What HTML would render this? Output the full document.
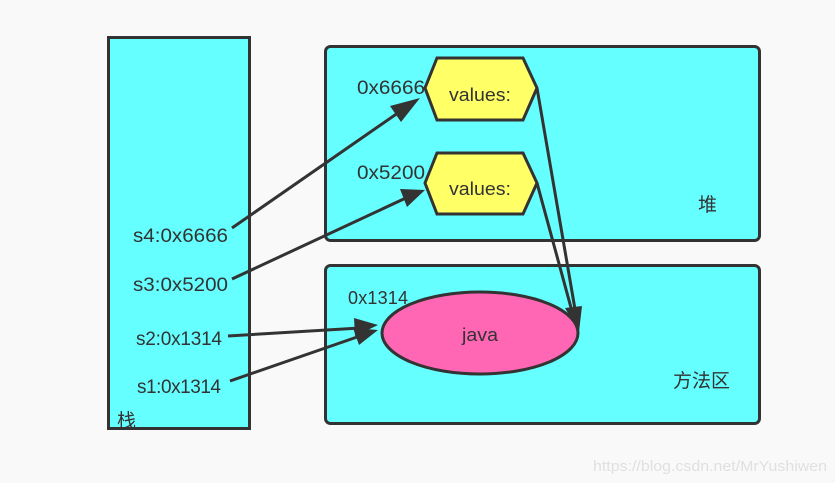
<!DOCTYPE html>
<html><head><meta charset="utf-8"><style>
html,body{margin:0;padding:0;background:#f9f9f9;}
svg{display:block;}
text{font-family:"Liberation Sans","Noto Sans CJK SC",sans-serif;fill:#333;}
</style></head><body>
<svg width="835" height="483" viewBox="0 0 835 483" xmlns="http://www.w3.org/2000/svg">
<rect x="0" y="0" width="835" height="483" fill="#f9f9f9"/>
<rect x="108.5" y="37.5" width="141" height="391" fill="#66ffff" stroke="#333" stroke-width="3"/>
<rect x="325.5" y="46.5" width="434" height="194" rx="5" fill="#66ffff" stroke="#333" stroke-width="3"/>
<rect x="325.5" y="265.5" width="434" height="158" rx="5" fill="#66ffff" stroke="#333" stroke-width="3"/>
<polygon points="425,88 437,58 523,58 537,88 523,120 437,120" fill="#ffff66" stroke="#333" stroke-width="3"/>
<polygon points="425,183 437,153 523,153 537,183 523,214 437,214" fill="#ffff66" stroke="#333" stroke-width="3"/>
<ellipse cx="480" cy="333" rx="98" ry="41" fill="#ff66b3" stroke="#333" stroke-width="3"/>
<g stroke="#333" stroke-width="3" fill="none">
<line x1="232" y1="228" x2="405" y2="108"/>
<line x1="232" y1="279" x2="408" y2="197"/>
<line x1="228" y1="336" x2="360" y2="328"/>
<line x1="230" y1="381" x2="360" y2="336"/>
<line x1="537" y1="88" x2="576" y2="315"/>
<line x1="537" y1="183" x2="573" y2="315"/>
</g>
<g fill="#333">
<polygon points="420,98 401,122 390,106"/>
<polygon points="425,190 407,207 400,189"/>
<polygon points="378,325 355,336 354,318"/>
<polygon points="378,330 359,345 353,328"/>
<polygon points="579,332 565,308 582,306"/>
</g>
<g font-size="19">
<text x="133" y="242" textLength="95" lengthAdjust="spacingAndGlyphs">s4:0x6666</text>
<text x="133" y="291" textLength="95" lengthAdjust="spacingAndGlyphs">s3:0x5200</text>
<text x="136" y="345" textLength="86" lengthAdjust="spacing">s2:0x1314</text>
<text x="137" y="393" textLength="84" lengthAdjust="spacing">s1:0x1314</text>
<text x="357" y="94" textLength="68" lengthAdjust="spacingAndGlyphs">0x6666</text>
<text x="357" y="179" textLength="68" lengthAdjust="spacingAndGlyphs">0x5200</text>
<text x="348" y="304" font-size="18" textLength="60" lengthAdjust="spacing">0x1314</text>
<text x="449" y="101" font-size="18" textLength="62" lengthAdjust="spacingAndGlyphs">values:</text>
<text x="449" y="195" font-size="18" textLength="62" lengthAdjust="spacingAndGlyphs">values:</text>
<text x="462" y="341" font-size="18" textLength="36" lengthAdjust="spacingAndGlyphs">java</text>
<text x="117" y="427">栈</text>
<text x="698" y="211">堆</text>
<text x="673" y="387">方法区</text>
</g>
<text x="593" y="471" font-size="15" textLength="234" lengthAdjust="spacingAndGlyphs" style="fill:#e0e0e0">https://blog.csdn.net/MrYushiwen</text>
</svg>
</body></html>
